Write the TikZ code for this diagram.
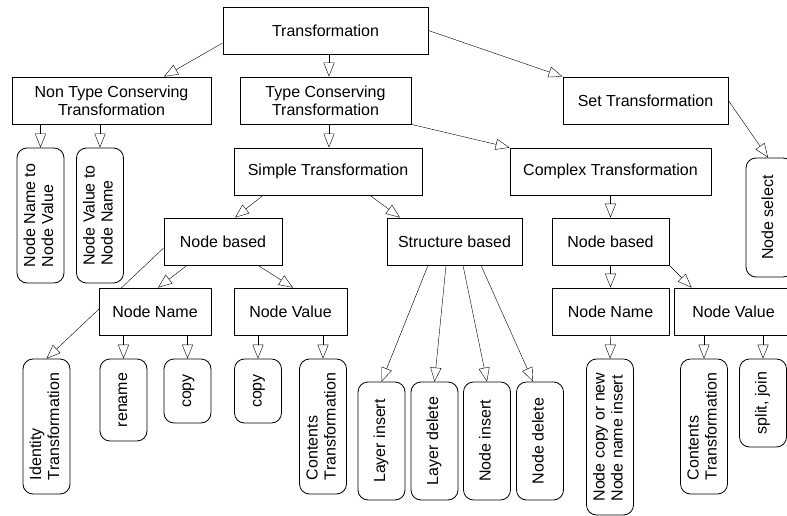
\documentclass[tikz,border=0pt]{standalone}
\usepackage{fontspec}
\setmainfont{Liberation Sans}
\usepackage{graphicx}
\usetikzlibrary{arrows.meta,calc,backgrounds}

\newcommand{\vlabel}[1]{\rotatebox{90}{\begin{tabular}{@{}l@{}}#1\end{tabular}}}

\begin{document}
\begin{tikzpicture}[x=1pt,y=-1pt, line width=0.8pt, every node/.style={font=\fontsize{16}{18}\selectfont},
    box/.style={draw, rectangle, fill=white, minimum height=47pt, align=center, inner sep=0pt},
    leaf/.style={draw, rectangle, rounded corners=10pt, fill=white, minimum width=47pt, inner sep=0pt},
    link/.style={-{Triangle[open,length=14pt,width=11pt]}}]
    \useasboundingbox (0,0) rectangle (787,516);
    \node[box, minimum width=205pt] (trans) at (325.5,30.5) {Transformation};
    \node[box, minimum width=199pt] (nontype) at (111.5,100.5) {Non Type Conserving\\Transformation};
    \node[box, minimum width=171pt] (typecons) at (325.5,100.5) {Type Conserving\\Transformation};
    \node[box, minimum width=165pt] (settrans) at (645.5,100.5) {Set Transformation};
    \node[box, minimum width=188pt] (simple) at (328,171.5) {Simple Transformation};
    \node[box, minimum width=201pt] (complex) at (610.5,171.5) {Complex Transformation};
    \node[leaf, minimum height=135pt] (nametoval) at (40.5,215.5) {\vlabel{Node Name to\\Node Value}};
    \node[leaf, minimum height=135pt] (valtoname) at (100,215.5) {\vlabel{Node Value to\\Node Name}};
    \node[leaf, minimum height=119pt] (nodeselect) at (769.5,217.5) {\vlabel{Node select}};
    \node[box, minimum width=118pt] (nodebasedA) at (223,241.5) {Node based};
    \node[box, minimum width=135pt] (structbased) at (454.5,241.5) {Structure based};
    \node[box, minimum width=117pt] (nodebasedB) at (610.5,241.5) {Node based};
    \node[box, minimum width=112pt] (nodenameA) at (155,311.5) {Node Name};
    \node[box, minimum width=113pt] (nodevalueA) at (290.5,311.5) {Node Value};
    \node[box, minimum width=117pt] (nodenameB) at (610.5,311.5) {Node Name};
    \node[box, minimum width=119pt] (nodevalueB) at (733.5,311.5) {Node Value};
    \node[leaf, minimum height=135pt] (identity) at (46.5,426.5) {\vlabel{Identity\\Transformation}};
    \node[leaf, minimum height=82pt] (rename) at (123.5,400) {\vlabel{rename}};
    \node[leaf, minimum height=64pt] (copyA) at (187.5,391) {\vlabel{copy}};
    \node[leaf, minimum height=64pt] (copyB) at (258,391) {\vlabel{copy}};
    \node[leaf, minimum height=135pt] (contentsA) at (323,426.5) {\vlabel{Contents\\Transformation}};
    \node[leaf, minimum height=118pt] (layerins) at (381.5,441) {\vlabel{Layer insert}};
    \node[leaf, minimum height=118pt] (layerdel) at (434.5,441) {\vlabel{Layer delete}};
    \node[leaf, minimum height=118pt] (nodeins) at (487,441) {\vlabel{Node insert}};
    \node[leaf, minimum height=118pt] (nodedel) at (540,441) {\vlabel{Node delete}};
    \node[leaf, minimum height=156pt] (nodecopy) at (610,437) {\vlabel{Node copy or new\\Node name insert}};
    \node[leaf, minimum height=135pt] (contentsB) at (704,426.5) {\vlabel{Contents\\Transformation}};
    \node[leaf, minimum height=88pt] (splitjoin) at (763,403) {\vlabel{split, join}};
    \begin{scope}[on background layer]
    \draw[link] ($(trans.west)+(0,12.5)$) -- ($(nontype.north)+(52.5,0)$);
    \draw[link] ($(trans.south)+(3.5,0)$) -- ($(typecons.north)+(3.5,0)$);
    \draw[link] (trans.east) -- (settrans.north west);
    \draw[link] ($(typecons.south)+(3.5,0)$) -- ($(simple.north)+(1,0)$);
    \draw[link] (typecons.south east) -- (complex.north west);
    \draw[link] (settrans.east) -- ($(nodeselect.north)+(-1.5,0)$);
    \draw[link] (nametoval.north |- nontype.south) -- (nametoval.north);
    \draw[link] (valtoname.north |- nontype.south) -- (valtoname.north);
    \draw[link] ($(simple.south)+(-65,0)$) -- ($(nodebasedA.north)+(12,0)$);
    \draw[link] ($(simple.south)+(42,0)$) -- ($(structbased.north)+(-54.5,0)$);
    \draw[link] (complex.south) -- (nodebasedB.north);
    \draw[link] ($(nodebasedA.south)+(-36,0)$) -- ($(nodenameA.north)+(3,0)$);
    \draw[link] ($(nodebasedA.south)+(35,0)$) -- ($(nodevalueA.north)+(2.5,0)$);
    \draw[link] ($(nodebasedA.west)+(0,6.5)$) -- (identity.north);
    \draw[link] (rename.north |- nodenameA.south) -- (rename.north);
    \draw[link] (copyA.north |- nodenameA.south) -- (copyA.north);
    \draw[link] (copyB.north |- nodevalueA.south) -- (copyB.north);
    \draw[link] (contentsA.north |- nodevalueA.south) -- (contentsA.north);
    \draw[link] ($(structbased.south)+(-26.5,0)$) -- (layerins.north);
    \draw[link] ($(structbased.south)+(-8.5,0)$) -- (layerdel.north);
    \draw[link] ($(structbased.south)+(8.5,0)$) -- (nodeins.north);
    \draw[link] ($(structbased.south)+(26.5,0)$) -- ($(nodedel.north)+(-7,0)$);
    \draw[link] (nodebasedB.south) -- (nodenameB.north);
    \draw[link] (nodebasedB.south east) -- ($(nodevalueB.north west)+(18,0)$);
    \draw[link] (nodenameB.south) -- (nodecopy.north);
    \draw[link] (contentsB.north |- nodevalueB.south) -- (contentsB.north);
    \draw[link] (splitjoin.north |- nodevalueB.south) -- (splitjoin.north);
    \end{scope}
\end{tikzpicture}
\end{document}
